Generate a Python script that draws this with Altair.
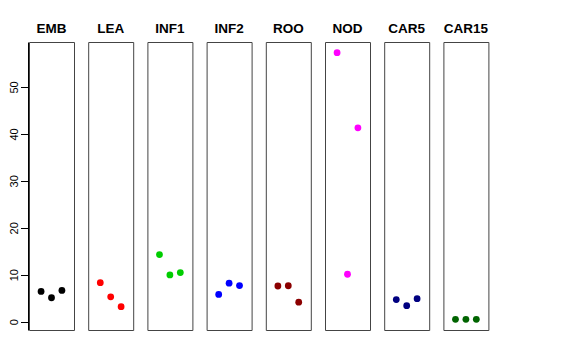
import altair as alt
import pandas as pd

groups = ["EMB", "LEA", "INF1", "INF2", "ROO", "NOD", "CAR5", "CAR15"]
colors = ["#000000", "#FF0000", "#00CD00", "#0000FF", "#8B0000", "#FF00FF", "#000080", "#006400"]
values = {
    "EMB": [6.45, 5.1, 6.65],
    "LEA": [8.3, 5.3, 3.2],
    "INF1": [14.3, 9.95, 10.45],
    "INF2": [5.8, 8.2, 7.7],
    "ROO": [7.6, 7.65, 4.15],
    "NOD": [57.3, 10.1, 41.3],
    "CAR5": [4.7, 3.4, 4.9],
    "CAR15": [0.5, 0.5, 0.5],
}
y_ticks = [0, 10, 20, 30, 40, 50]

rows = []
for g in groups:
    for i, v in enumerate(values[g]):
        rows.append({"group": g, "idx": i + 1, "value": v})
df = pd.DataFrame(rows)

ymin, ymax = min(df.value), max(df.value)
pad = (ymax - ymin) * 0.04

base = alt.Chart(df).mark_circle(size=46, opacity=1).encode(
    x=alt.X("idx:Q", axis=None, scale=alt.Scale(domain=[-0.16, 4.16], nice=False, zero=False)),
    y=alt.Y("value:Q", title=None,
            scale=alt.Scale(domain=[ymin - pad, ymax + pad], nice=False, zero=False),
            axis=alt.Axis(values=y_ticks, grid=False, domainColor="#000000", tickColor="#000000",
                          tickSize=7.5, labelAngle=270, labelAlign="center", labelBaseline="bottom",
                          labelPadding=1, labelFont="Liberation Sans", labelFontSize=11,
                          labelColor="#000000")),
    color=alt.Color("group:N", scale=alt.Scale(domain=groups, range=colors), legend=None),
).properties(width=45, height=288)

chart = base.facet(
    column=alt.Column("group:N", sort=groups, title=None,
                      header=alt.Header(labelFont="Liberation Sans", labelFontSize=13.5,
                                        labelFontWeight="bold", labelColor="#000000",
                                        labelPadding=5.3)),
    spacing=12.2,
).properties(
    padding={"left": 0, "top": 14, "right": 5, "bottom": 5}
).configure_view(stroke="#444444", strokeWidth=1)

chart.save("out.html", embed_options={"renderer": "svg", "actions": False})
